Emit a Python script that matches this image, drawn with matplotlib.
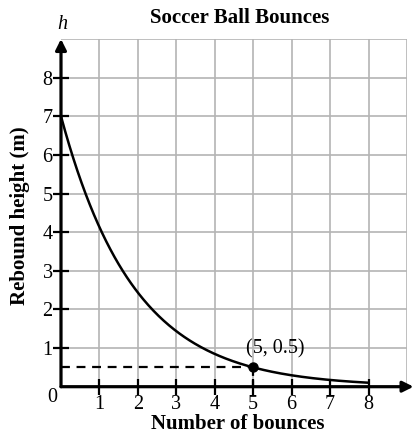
import numpy as np
import matplotlib
matplotlib.use("Agg")
import matplotlib.pyplot as plt

plt.rcParams["font.family"] = ["Liberation Serif", "DejaVu Serif"]

# Bounce model: starts at the drop height and passes through the marked point
start_height = 7.0
marked_bounce = 5
marked_height = 0.5
last_bounce = 8
point_label = "(5, 0.5)"

x_ticks = [1, 2, 3, 4, 5, 6, 7, 8]
y_ticks = [1, 2, 3, 4, 5, 6, 7, 8]
edge_grid = [9]

ratio = (marked_height / start_height) ** (1.0 / marked_bounce)
n = np.linspace(0, last_bounce, 300)
h = start_height * ratio ** n

fig = plt.figure(figsize=(4.19, 4.33), dpi=100)
ax = fig.add_axes([61 / 419, 46.3 / 433, 346 / 419, 347.7 / 433])
ax.set_xlim(0, 9)
ax.set_ylim(0, 9)
for s in ax.spines.values():
    s.set_visible(False)

ax.set_xticks(x_ticks)
ax.set_yticks(y_ticks)
ax.set_xticks(edge_grid, minor=True)
ax.set_yticks(edge_grid, minor=True)
ax.grid(which="both", color="#b4b4b4", lw=1.2)
ax.tick_params(which="minor", length=0)
ax.tick_params(which="major", direction="inout", length=12, width=1.6,
               labelsize=14.5, pad=0)
ax.set_axisbelow(True)

# axes with arrowheads
arrow = dict(arrowstyle="-|>", color="black", lw=2.3, mutation_scale=16,
             shrinkA=0, shrinkB=0)
ax.annotate("", xy=(9.17, 0), xytext=(0, 0), arrowprops=arrow,
            annotation_clip=False, zorder=5)
ax.annotate("", xy=(0, 9.0), xytext=(0, 0), arrowprops=arrow,
            annotation_clip=False, zorder=5)

ax.plot(n, h, color="black", lw=1.8, zorder=4, clip_on=False)
ax.plot([0, marked_bounce], [marked_height, marked_height], color="black",
        lw=1.6, ls=(0, (4, 3)), zorder=3)
ax.plot([marked_bounce, marked_bounce], [0, marked_height], color="black",
        lw=1.6, ls=(0, (3, 2)), zorder=3)
ax.plot([marked_bounce], [marked_height], "o", color="black", ms=6.5, zorder=6)
ax.text(marked_bounce - 0.18, marked_height + 0.48, point_label,
        fontsize=14.5, ha="left", va="center")

ax.text(-0.24, -0.29, "0", fontsize=14.5, ha="center", va="center")
ax.text(0.03, 9.37, "h", fontsize=14.5, style="italic", ha="center", va="center")
ax.text(9.3, 0.0, "n", fontsize=14.5, style="italic", ha="left", va="center")

fig.text(240 / 419, 1 - 18 / 433, "Soccer Ball Bounces", fontsize=15,
         fontweight="bold", ha="center", va="center")
fig.text(238 / 419, 1 - 424 / 433, "Number of bounces", fontsize=15,
         fontweight="bold", ha="center", va="center")
fig.text(20 / 419, 1 - 216 / 433, "Rebound height (m)", fontsize=15,
         fontweight="bold", ha="center", va="center", rotation=90)

fig.savefig("out.png", dpi=100)
